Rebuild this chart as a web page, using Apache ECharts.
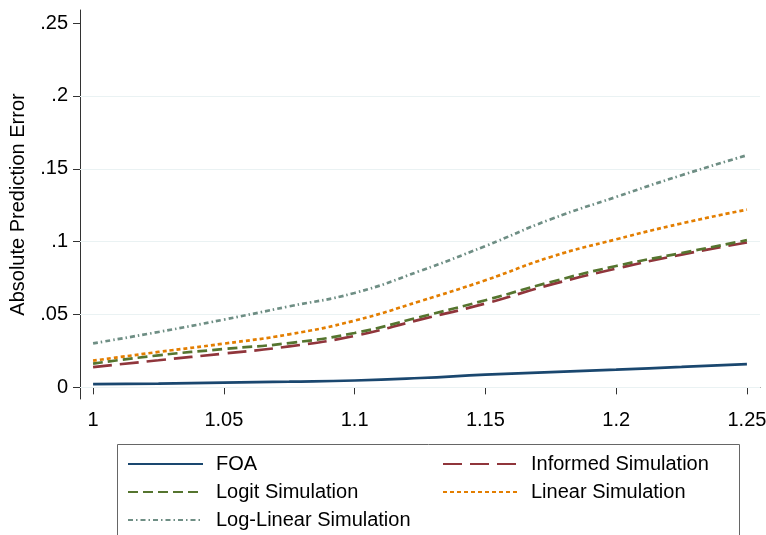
<!DOCTYPE html>
<html>
<head>
<meta charset="utf-8">
<script src="https://cdn.jsdelivr.net/npm/echarts@6/dist/echarts.min.js"></script>
<style>
  html, body { margin: 0; padding: 0; background: #fff; }
  #chart { width: 766px; height: 535px; }
</style>
</head>
<body>
<div id="chart"></div>
<script>
// x 取值 (1 到 1.25)
const xValues = [1, 1.025, 1.05, 1.075, 1.1, 1.125, 1.15, 1.175, 1.2, 1.225, 1.25];
// 各条曲线
const foa = [0.0022, 0.0026, 0.0033, 0.0039, 0.0047, 0.0064, 0.0087, 0.0105, 0.0122, 0.0140, 0.0160];
const informedSim = [0.0139, 0.0186, 0.0232, 0.0281, 0.0353, 0.0465, 0.0575, 0.0705, 0.0815, 0.0911, 0.0994];
const logitSim = [0.0163, 0.0220, 0.0263, 0.0304, 0.0373, 0.0483, 0.0598, 0.0723, 0.0833, 0.0922, 0.1010];
const linearSim = [0.0183, 0.0243, 0.0300, 0.0364, 0.0458, 0.0591, 0.0735, 0.0895, 0.1016, 0.1125, 0.1220];
const logLinearSim = [0.0302, 0.0380, 0.0465, 0.0556, 0.0648, 0.0799, 0.0970, 0.1154, 0.1307, 0.1456, 0.1593];
// 刻度
const xTicks = [1, 1.05, 1.1, 1.15, 1.2, 1.25];
const yTicks = [0, 0.05, 0.1, 0.15, 0.2, 0.25];
const yGrid = [0, 0.05, 0.1, 0.15, 0.2];

const font = 'Liberation Sans, Arial, sans-serif';

function pairs(ys) {
  return xValues.map((x, i) => [x, ys[i]]);
}

function makeSeries(name, ys, color, type, extra) {
  return Object.assign({
    name: name,
    type: 'line',
    data: pairs(ys),
    smooth: true,
    symbol: 'none',
    lineStyle: { color: color, width: 2.7, type: type },
    itemStyle: { color: color },
    z: 3
  }, extra || {});
}

const legendBase = {
  top: 454, orient: 'vertical', padding: 0, height: 90,
  itemWidth: 75, itemHeight: 14, itemGap: 8,
  itemStyle: { opacity: 0 },
  textStyle: { color: '#000', fontSize: 20, fontFamily: font, padding: [0, 0, 0, 8] }
};

const chart = echarts.init(document.getElementById('chart'));
chart.setOption({
  backgroundColor: '#fff',
  animation: false,
  textStyle: { fontFamily: font },
  grid: { left: 80, right: 6, top: 10, bottom: 136, outerBoundsMode: 'none' },
  xAxis: {
    type: 'value',
    min: 0.995,
    max: 1.255,
    axisLine: { show: true, lineStyle: { color: '#333', width: 1 } },
    axisTick: { show: true, length: 7, customValues: xTicks, lineStyle: { color: '#333' } },
    axisLabel: {
      customValues: xTicks,
      color: '#000',
      fontSize: 20,
      margin: 11,
      fontFamily: font,
      formatter: v => String(+v.toFixed(2))
    },
    splitLine: { show: false }
  },
  yAxis: {
    type: 'value',
    min: -0.008,
    max: 0.259,
    name: 'Absolute Prediction Error',
    nameLocation: 'middle',
    nameGap: 52,
    nameRotate: 90,
    nameTextStyle: { color: '#000', fontSize: 20, fontFamily: font },
    axisLine: { show: true, lineStyle: { color: '#333', width: 1 } },
    axisTick: { show: true, length: 7, customValues: yTicks, lineStyle: { color: '#333' } },
    axisLabel: {
      customValues: yTicks,
      color: '#000',
      fontSize: 20,
      margin: 12,
      fontFamily: font,
      formatter: v => v === 0 ? '0' : String(+v.toFixed(2)).replace(/^0/, '')
    },
    splitLine: { show: false }
  },
  legend: [
    Object.assign({ left: 127, data: ['FOA', 'Logit Simulation', 'Log-Linear Simulation'] }, legendBase),
    Object.assign({ left: 442, data: ['Informed Simulation', 'Linear Simulation'] }, legendBase)
  ],
  graphic: [
    {
      type: 'rect',
      shape: { x: 117.5, y: 444.5, width: 622, height: 100 },
      style: { fill: 'none', stroke: '#666', lineWidth: 1 },
      silent: true
    }
  ],
  series: [
    makeSeries('FOA', foa, '#1a476f', 'solid', {
      markLine: {
        silent: true,
        symbol: 'none',
        label: { show: false },
        lineStyle: { color: '#eaf2f3', width: 1.2, type: 'solid' },
        data: yGrid.map(v => ({ yAxis: v })),
        z: 1
      }
    }),
    makeSeries('Informed Simulation', informedSim, '#90353b', [19, 8]),
    makeSeries('Logit Simulation', logitSim, '#55752f', [10, 5]),
    makeSeries('Linear Simulation', linearSim, '#e37e00', [4, 3]),
    makeSeries('Log-Linear Simulation', logLinearSim, '#6e8e84', [5, 3, 1.5, 3])
  ]
});
</script>
</body>
</html>
